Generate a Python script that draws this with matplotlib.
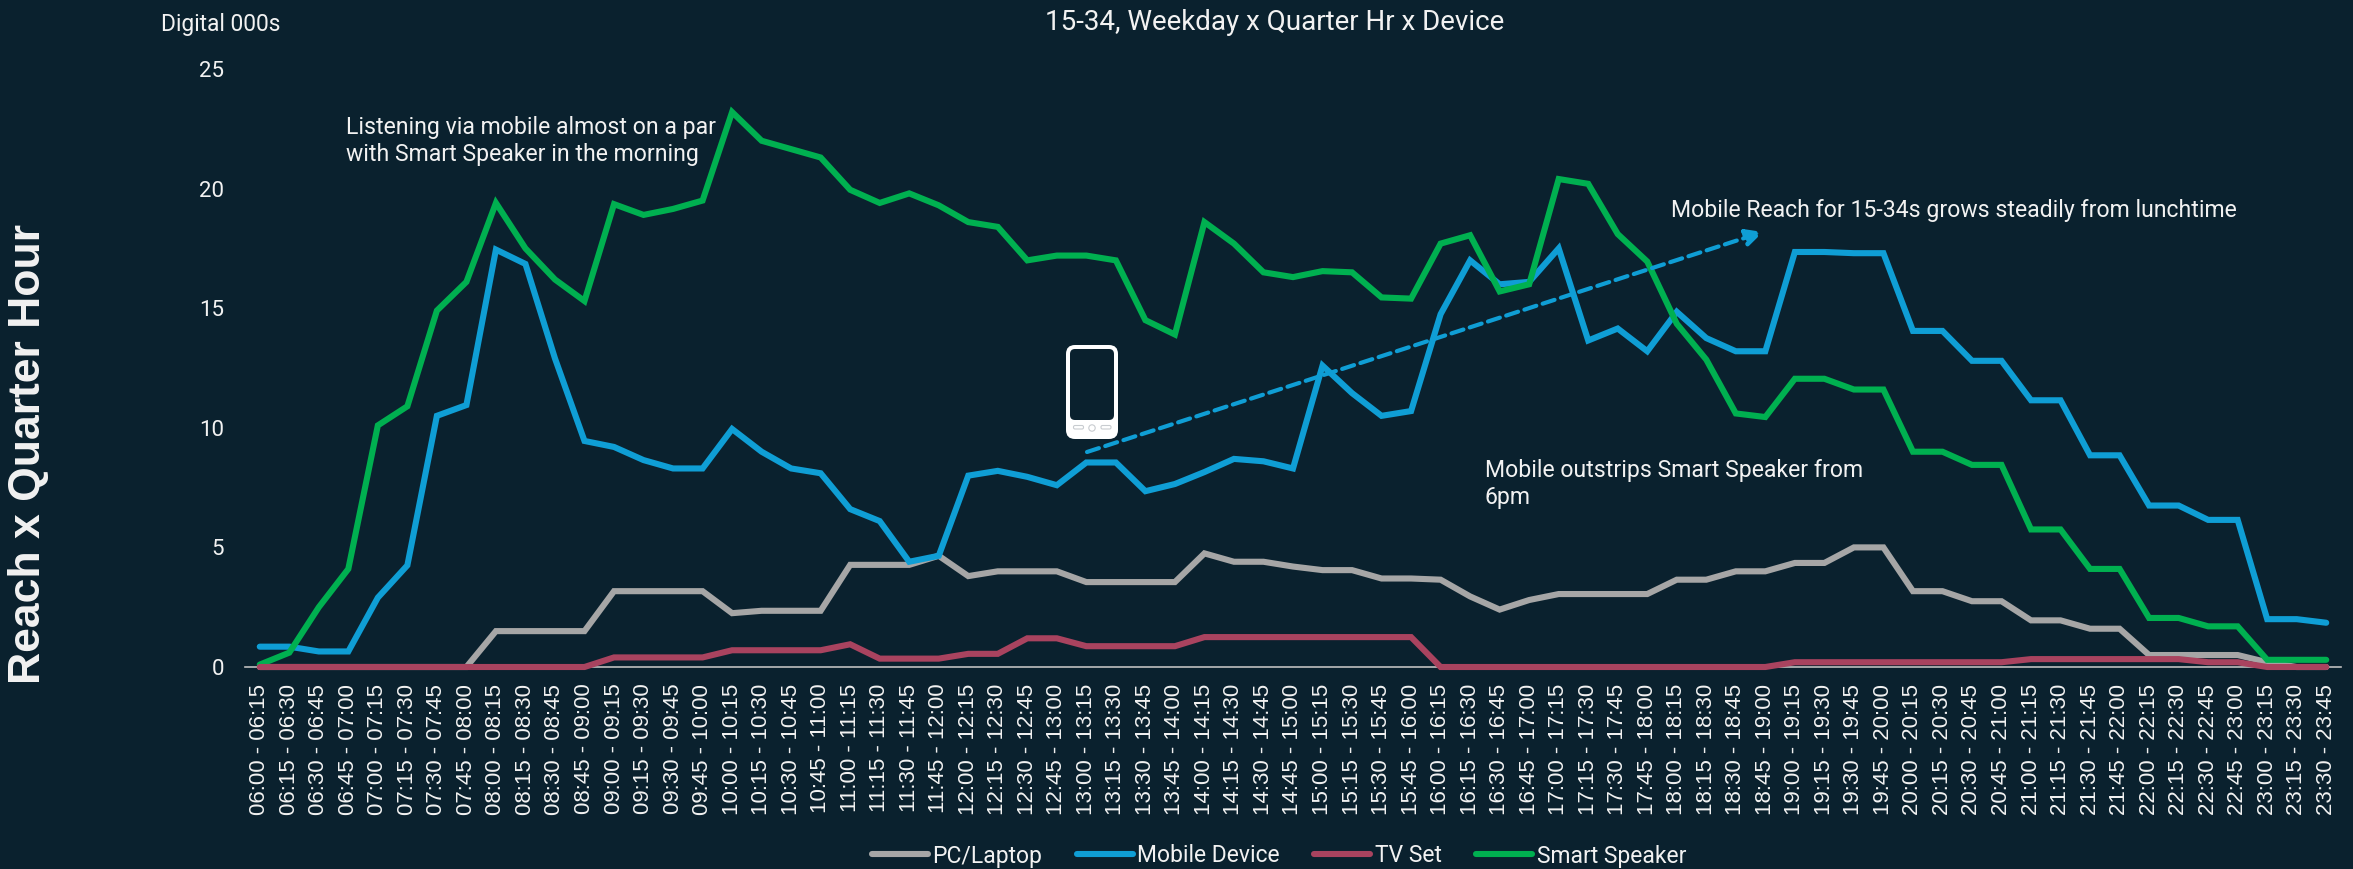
import matplotlib
matplotlib.use("Agg")
import matplotlib.pyplot as plt
from matplotlib.patches import FancyBboxPatch, Circle

W, H = 2353, 869
bg = '#0A212E'
text_col = '#F2F2F2'
text_font = 'Roboto'

starts = [f"{h:02d}:{m:02d}" for h in range(6, 24) for m in (0, 15, 30, 45)][:71]
ends = [f"{h:02d}:{m:02d}" for h in range(6, 24) for m in (0, 15, 30, 45)][1:72]
quarters = [s + " - " + e for s, e in zip(starts, ends)]

pc_laptop = [0, 0, 0, 0, 0, 0, 0, 0, 1.5, 1.5, 1.5, 1.5, 3.17, 3.17, 3.17, 3.17, 2.25, 2.35, 2.35, 2.35,
             4.27, 4.27, 4.27, 4.65, 3.8, 4.0, 4.0, 4.0, 3.55, 3.55, 3.55, 3.55, 4.75, 4.4, 4.4, 4.2,
             4.05, 4.05, 3.7, 3.7, 3.65, 2.95, 2.4, 2.8, 3.05, 3.05, 3.05, 3.05, 3.65, 3.65, 4.0, 4.0,
             4.35, 4.35, 5.0, 5.0, 3.17, 3.17, 2.75, 2.75, 1.95, 1.95, 1.6, 1.6, 0.5, 0.5, 0.5, 0.5,
             0.2, 0.0, 0.0]
mobile = [0.85, 0.85, 0.65, 0.65, 2.9, 4.25, 10.5, 10.95, 17.45, 16.85, 12.9, 9.45, 9.2, 8.65, 8.3, 8.3,
          9.95, 9.0, 8.3, 8.1, 6.6, 6.1, 4.4, 4.65, 8.0, 8.2, 7.95, 7.6, 8.55, 8.55, 7.35, 7.65, 8.15,
          8.7, 8.6, 8.3, 12.6, 11.45, 10.5, 10.7, 14.75, 17.0, 16.0, 16.1, 17.5, 13.65, 14.15, 13.2,
          14.85, 13.75, 13.2, 13.2, 17.35, 17.35, 17.3, 17.3, 14.05, 14.05, 12.8, 12.8, 11.15, 11.15,
          8.85, 8.85, 6.75, 6.75, 6.15, 6.15, 2.0, 2.0, 1.85]
tv_set = [0, 0, 0, 0, 0, 0, 0, 0, 0, 0, 0, 0, 0.4, 0.4, 0.4, 0.4, 0.7, 0.7, 0.7, 0.7, 0.95, 0.35, 0.35,
          0.35, 0.55, 0.55, 1.2, 1.2, 0.87, 0.87, 0.87, 0.87, 1.25, 1.25, 1.25, 1.25, 1.25, 1.25, 1.25,
          1.25, 0, 0, 0, 0, 0, 0, 0, 0, 0, 0, 0, 0, 0.2, 0.2, 0.2, 0.2, 0.2, 0.2, 0.2, 0.2, 0.33, 0.33,
          0.33, 0.33, 0.33, 0.33, 0.2, 0.2, 0, 0, 0]
smart_speaker = [0.1, 0.6, 2.5, 4.1, 10.1, 10.9, 14.9, 16.1, 19.4, 17.5, 16.2, 15.3, 19.35, 18.9, 19.15,
                 19.5, 23.2, 22.0, 21.65, 21.3, 19.95, 19.4, 19.8, 19.3, 18.6, 18.4, 17.0, 17.2, 17.2,
                 17.0, 14.5, 13.9, 18.6, 17.7, 16.5, 16.3, 16.55, 16.5, 15.45, 15.4, 17.7, 18.05, 15.7,
                 16.0, 20.4, 20.2, 18.1, 16.95, 14.35, 12.85, 10.6, 10.45, 12.05, 12.05, 11.6, 11.6,
                 9.0, 9.0, 8.45, 8.45, 5.75, 5.75, 4.1, 4.1, 2.05, 2.05, 1.7, 1.7, 0.3, 0.3, 0.3]

series = [('PC/Laptop', pc_laptop, '#A6A6A6', 2),
          ('Mobile Device', mobile, '#0F9ED5', 3),
          ('TV Set', tv_set, '#A9435F', 5),
          ('Smart Speaker', smart_speaker, '#00B050', 4)]

fig = plt.figure(figsize=(W / 100, H / 100), dpi=100, facecolor=bg)
ax = fig.add_axes([245 / W, 1 - 667 / H, (2341 - 245) / W, (667 - 69) / H], facecolor=bg)

x = list(range(len(quarters)))
for name, vals, col, z in series:
    ax.plot(x, vals, color=col, lw=4.4, label=name, zorder=z, clip_on=False,
            solid_joinstyle='miter', solid_capstyle='round')

ax.set_xlim(-0.5, 70.5)
ax.set_ylim(0, 25)
ax.set_yticks([0, 5, 10, 15, 20, 25])
ax.set_xticks(x)
ax.set_xticklabels(quarters, rotation=90, family='Liberation Sans', fontsize=16, color=text_col)
ax.tick_params(axis='x', length=0, pad=12)
ax.tick_params(axis='y', length=0, pad=15, labelsize=16, labelcolor=text_col)
for lab in ax.get_yticklabels():
    lab.set_family(text_font)
for s in ['top', 'right', 'left']:
    ax.spines[s].set_visible(False)
ax.spines['bottom'].set_color('#BFBFBF')
ax.spines['bottom'].set_linewidth(1.2)

leg = ax.legend(loc='center', bbox_to_anchor=(1279 / W, 1 - 856 / H), bbox_transform=fig.transFigure, ncol=4,
                frameon=False, prop={'family': text_font, 'size': 16.5}, labelcolor=text_col,
                handlelength=2.45, handletextpad=0.2, columnspacing=1.5)

# overlay in image pixels for the annotations
ov = fig.add_axes([0, 0, 1, 1], facecolor='none', zorder=10)
ov.set_xlim(0, W)
ov.set_ylim(H, 0)
ov.axis('off')

ov.text(29, 454, 'Reach x Quarter Hour', rotation=90, ha='center', va='center',
        family='Liberation Sans', weight='bold', fontsize=32, color=text_col)
ov.text(221, 24, 'Digital 000s', ha='center', va='center', family=text_font, fontsize=16.4, color=text_col)
ov.text(1275, 23, '15-34, Weekday x Quarter Hr x Device', ha='center', va='center',
        family=text_font, fontsize=20, color=text_col)
ov.text(346, 141, 'Listening via mobile almost on a par\nwith Smart Speaker in the morning', va='center',
        family=text_font, fontsize=16.6, color=text_col, linespacing=1.27)
ov.text(1671, 211, 'Mobile Reach for 15-34s grows steadily from lunchtime', va='center',
        family=text_font, fontsize=16.6, color=text_col)
ov.text(1485, 484, 'Mobile outstrips Smart Speaker from\n6pm', va='center',
        family=text_font, fontsize=16.6, color=text_col, linespacing=1.27)

# trend arrow
ov.annotate('', xy=(1763, 232), xytext=(1087, 452),
            arrowprops=dict(arrowstyle='-|>,head_length=1.0,head_width=0.5', color='#0F9ED5', lw=3,
                            linestyle=(0, (3, 1.6)), shrinkA=0, shrinkB=0))

# phone icon
ov.add_patch(FancyBboxPatch((1071, 350), 42, 84, boxstyle='round,pad=5,rounding_size=9',
                            fc='white', ec='none'))
ov.add_patch(FancyBboxPatch((1073, 352), 38, 65, boxstyle='round,pad=3,rounding_size=5',
                            fc=bg, ec='none'))
for bx in (1078.5, 1106):
    ov.add_patch(FancyBboxPatch((bx - 4, 426.5), 8, 1.5, boxstyle='round,pad=1,rounding_size=1.5',
                                fc='white', ec='#C8CCD0', lw=0.8))
ov.add_patch(Circle((1092, 428), 3.2, fc='white', ec='#C8CCD0', lw=0.8))

fig.savefig('out.png', dpi=100, facecolor=bg)
